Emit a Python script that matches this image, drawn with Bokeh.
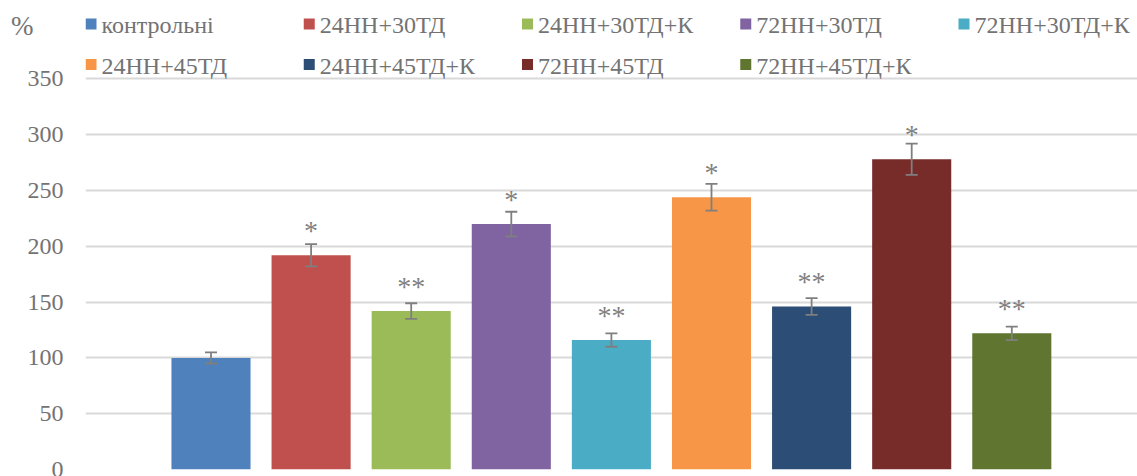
from bokeh.plotting import figure
from bokeh.models import (Range1d, FixedTicker, ColumnDataSource, Whisker, TeeHead)
from bokeh.core.properties import value
from bokeh.embed import file_html
from bokeh.resources import INLINE

# ---------------- data ----------------
categories = ["контрольні", "24НН+30ТД", "24НН+30ТД+К", "72НН+30ТД", "72НН+30ТД+К",
              "24НН+45ТД", "24НН+45ТД+К", "72НН+45ТД", "72НН+45ТД+К"]
values = [100, 192, 142, 220, 116, 244, 146, 278, 122]
errors = [5, 10, 7, 11, 6, 12, 7.5, 14, 6]
marks = ["", "*", "**", "*", "**", "*", "**", "*", "**"]
colors = ["#4F81BD", "#C0504D", "#9BBB59", "#8064A2", "#4BACC6",
          "#F79646", "#2C4D75", "#772C2A", "#5F7530"]
y_ticks = [0, 50, 100, 150, 200, 250, 300, 350]
unit_label = "%"

# ---------------- layout constants ----------------
W, H = 1137, 476
FL, FR, FB = 85, 1137, 469          # frame left/right/bottom in px (top = 0)
X0, X1 = -1.2537, 9.2557
Y1 = 420.3
FONT = "Liberation Serif"
TXT = "#737373"

def dx(px):
    return X0 + (px - FL) * (X1 - X0) / (FR - FL)

def dy(py):
    return (FB - py) * Y1 / FB

idx = list(range(len(categories)))
src = ColumnDataSource(dict(
    x=idx, top=values, color=colors, mark=marks,
    upper=[v + e for v, e in zip(values, errors)],
    lower=[v - e for v, e in zip(values, errors)],
))

p = figure(width=W, height=H, output_backend="svg", toolbar_location=None,
           x_range=Range1d(X0, X1), y_range=Range1d(0, Y1),
           x_axis_location=None, min_border_left=FL, min_border_right=0,
           min_border_top=0, min_border_bottom=H - FB)
p.outline_line_color = None
p.background_fill_color = "white"
p.border_fill_color = "white"

p.xgrid.visible = False
p.ygrid.ticker = FixedTicker(ticks=y_ticks)
p.ygrid.grid_line_color = "#d9d9d9"
p.ygrid.grid_line_width = 2

ax = p.yaxis[0]
ax.ticker = FixedTicker(ticks=y_ticks)
ax.axis_line_color = None
ax.major_tick_line_color = None
ax.minor_tick_line_color = None
ax.major_tick_out = 0
ax.major_tick_in = 0
ax.major_label_standoff = 22
ax.major_label_text_font = FONT
ax.major_label_text_font_size = "24px"
ax.major_label_text_color = TXT

# unit label "%" at the top-left, written horizontally
ax.axis_label = "\n\n" + unit_label
ax.axis_label_text_font = FONT
ax.axis_label_text_font_size = "27px"
ax.axis_label_text_line_height = 0.85
ax.axis_label_text_font_style = "normal"
ax.axis_label_text_color = TXT
ax.axis_label_standoff = -9
ax.axis_label_orientation = "horizontal"
ax.axis_label_align = "end"

p.vbar(x="x", top="top", width=0.79, bottom=0, fill_color="color",
       line_color=None, source=src)

wh = Whisker(source=src, base="x", upper="upper", lower="lower",
             line_color="#7f7f7f", line_width=1.8, level="overlay",
             upper_head=TeeHead(size=12, line_color="#7f7f7f", line_width=1.8),
             lower_head=TeeHead(size=12, line_color="#7f7f7f", line_width=1.8))
p.add_layout(wh)

p.text(x="x", y="top", text="mark", source=src, text_align="center",
       text_baseline="middle", y_offset=-25,
       text_font=value(FONT), text_font_size="28px", text_color="#808080")

# legend (5 columns x 2 rows)
col_px = [85 + 218.25 * k for k in range(5)]
sq_cy = [23.5, 64]
lx, ly, tx, ty = [], [], [], []
for i, c in enumerate(categories):
    col, row = i % 5, i // 5
    lx.append(dx(col_px[col] + 5.5))
    ly.append(dy(sq_cy[row]))
    tx.append(dx(col_px[col] + 16))
    ty.append(dy(sq_cy[row] + 1))
p.scatter(x=lx, y=ly, marker="square", size=11, fill_color=colors, line_color=None)
p.text(x=tx, y=ty, text=categories, text_align="left", text_baseline="middle",
       text_font=value(FONT), text_font_size="24px", text_color=TXT)

open("out.html", "w").write(file_html(p, INLINE))
